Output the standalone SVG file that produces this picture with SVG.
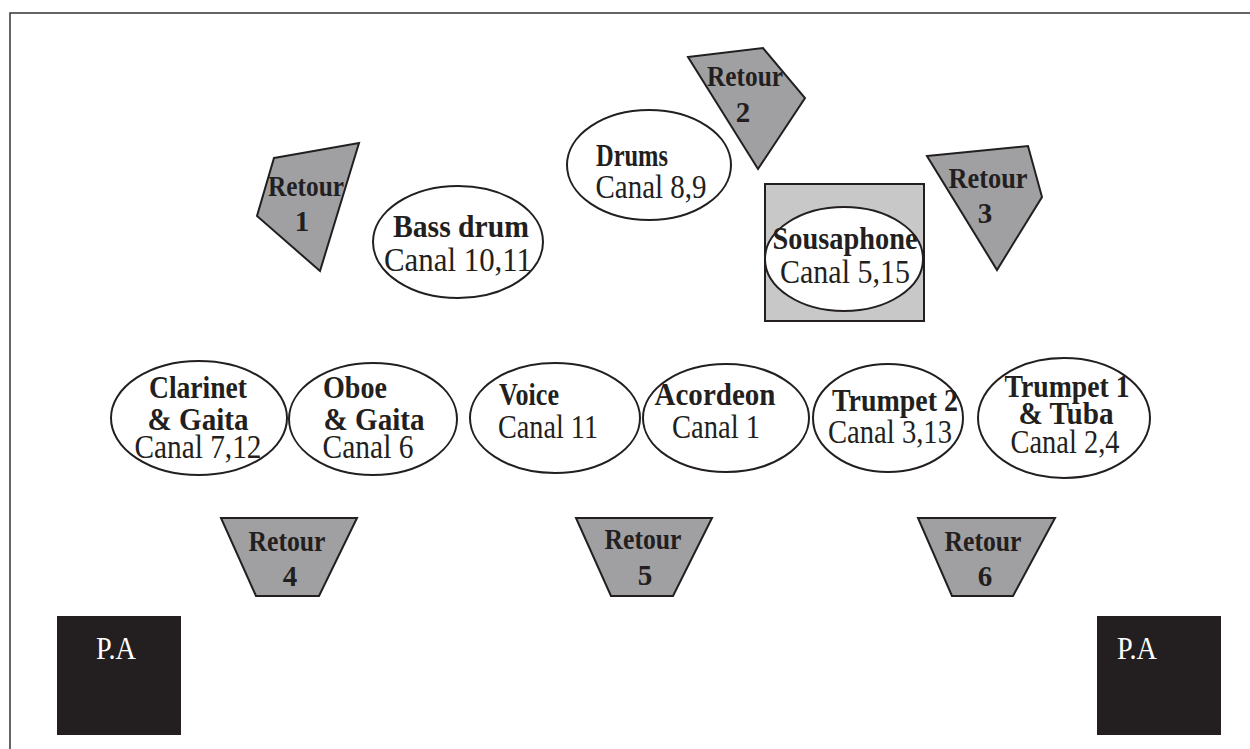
<svg xmlns="http://www.w3.org/2000/svg" width="1250" height="749" viewBox="0 0 1250 749">
<style>
.ret{fill:#a0a0a3;stroke:#231f20;stroke-width:2}
.el{fill:#fff;stroke:#231f20;stroke-width:2}
.b{font-family:"Liberation Serif",serif;font-weight:bold;font-size:31px;fill:#231f20;text-anchor:middle}
.r{font-family:"Liberation Serif",serif;font-size:33px;fill:#231f20;text-anchor:middle}
.rt{font-family:"Liberation Serif",serif;font-weight:bold;font-size:29px;fill:#231f20;text-anchor:middle}
.pa{fill:#231f20}
.pat{font-family:"Liberation Serif",serif;font-size:32px;fill:#fff}
</style>
<rect width="1250" height="749" fill="#fff"/>
<path d="M10,749 V13 H1250" fill="none" stroke="#333" stroke-width="1.5"/>

<g id="sousaphone">
<rect x="765" y="184" width="159" height="137" fill="#c8c8c8" stroke="#231f20" stroke-width="2"/>
<ellipse class="el" cx="844" cy="259" rx="79" ry="52"/>
<text class="b" x="845" y="249" textLength="145" lengthAdjust="spacingAndGlyphs">Sousaphone</text>
<text class="r" x="845" y="283" textLength="130" lengthAdjust="spacingAndGlyphs">Canal 5,15</text>
</g>

<g id="retour1">
<polygon class="ret" points="274,158 359,143 320,271 257,216"/>
<text class="rt" x="306" y="196" textLength="76" lengthAdjust="spacingAndGlyphs">Retour</text>
<text class="rt" x="302" y="231">1</text>
</g>
<g id="retour2">
<polygon class="ret" points="688,57 763,48 805,98 758,169"/>
<text class="rt" x="745" y="86" textLength="76" lengthAdjust="spacingAndGlyphs">Retour</text>
<text class="rt" x="743" y="122">2</text>
</g>
<g id="retour3">
<polygon class="ret" points="927,156 1028,146 1042,197 997,270"/>
<text class="rt" x="988" y="188" textLength="79" lengthAdjust="spacingAndGlyphs">Retour</text>
<text class="rt" x="985" y="223">3</text>
</g>
<g id="retour4">
<polygon class="ret" points="221,518 357,518 319,596 256,596"/>
<text class="rt" x="287" y="551" textLength="77" lengthAdjust="spacingAndGlyphs">Retour</text>
<text class="rt" x="290" y="586">4</text>
</g>
<g id="retour5">
<polygon class="ret" points="576,518 712,518 673,596 611,596"/>
<text class="rt" x="643" y="549" textLength="77" lengthAdjust="spacingAndGlyphs">Retour</text>
<text class="rt" x="645" y="585">5</text>
</g>
<g id="retour6">
<polygon class="ret" points="918,518 1055,518 1013,596 952,596"/>
<text class="rt" x="983" y="551" textLength="77" lengthAdjust="spacingAndGlyphs">Retour</text>
<text class="rt" x="985" y="586">6</text>
</g>

<g id="bassdrum">
<ellipse class="el" cx="458" cy="242" rx="85" ry="56"/>
<text class="b" x="461" y="237" textLength="136" lengthAdjust="spacingAndGlyphs">Bass drum</text>
<text class="r" x="458" y="271" textLength="148" lengthAdjust="spacingAndGlyphs">Canal 10,11</text>
</g>
<g id="drums">
<ellipse class="el" cx="649" cy="165" rx="82" ry="55"/>
<text class="b" x="632" y="166" textLength="72" lengthAdjust="spacingAndGlyphs">Drums</text>
<text class="r" x="651" y="198" textLength="111" lengthAdjust="spacingAndGlyphs">Canal 8,9</text>
</g>

<g id="clarinet">
<ellipse class="el" cx="199" cy="418" rx="88" ry="57"/>
<text class="b" x="198" y="398" textLength="98" lengthAdjust="spacingAndGlyphs">Clarinet</text>
<text class="b" x="198" y="430" textLength="101" lengthAdjust="spacingAndGlyphs">&amp; Gaita</text>
<text class="r" x="198" y="458" textLength="127" lengthAdjust="spacingAndGlyphs">Canal 7,12</text>
</g>
<g id="oboe">
<ellipse class="el" cx="373" cy="419" rx="84" ry="56"/>
<text class="b" x="355" y="398" textLength="64" lengthAdjust="spacingAndGlyphs">Oboe</text>
<text class="b" x="374" y="430" textLength="101" lengthAdjust="spacingAndGlyphs">&amp; Gaita</text>
<text class="r" x="368" y="458" textLength="91" lengthAdjust="spacingAndGlyphs">Canal 6</text>
</g>
<g id="voice">
<ellipse class="el" cx="555" cy="418" rx="85" ry="55"/>
<text class="b" x="529" y="405" textLength="60" lengthAdjust="spacingAndGlyphs">Voice</text>
<text class="r" x="548" y="438" textLength="100" lengthAdjust="spacingAndGlyphs">Canal 11</text>
</g>
<g id="acordeon">
<ellipse class="el" cx="726" cy="418" rx="83" ry="54"/>
<text class="b" x="715" y="405" textLength="121" lengthAdjust="spacingAndGlyphs">Acordeon</text>
<text class="r" x="716" y="438" textLength="88" lengthAdjust="spacingAndGlyphs">Canal 1</text>
</g>
<g id="trumpet2">
<ellipse class="el" cx="888" cy="418" rx="75" ry="54"/>
<text class="b" x="895" y="411" textLength="126" lengthAdjust="spacingAndGlyphs">Trumpet 2</text>
<text class="r" x="890" y="443" textLength="124" lengthAdjust="spacingAndGlyphs">Canal 3,13</text>
</g>
<g id="trumpet1">
<ellipse class="el" cx="1064" cy="418" rx="86" ry="60"/>
<text class="b" x="1067" y="397" textLength="125" lengthAdjust="spacingAndGlyphs">Trumpet 1</text>
<text class="b" x="1066" y="424" textLength="95" lengthAdjust="spacingAndGlyphs">&amp; Tuba</text>
<text class="r" x="1065" y="453" textLength="109" lengthAdjust="spacingAndGlyphs">Canal 2,4</text>
</g>

<g id="pa-left">
<rect class="pa" x="57" y="616" width="124" height="119"/>
<text class="pat" x="96" y="659" textLength="40" lengthAdjust="spacingAndGlyphs">P.A</text>
</g>
<g id="pa-right">
<rect class="pa" x="1097" y="616" width="124" height="119"/>
<text class="pat" x="1117" y="659" textLength="40" lengthAdjust="spacingAndGlyphs">P.A</text>
</g>
<g id="connectors"/>
</svg>
